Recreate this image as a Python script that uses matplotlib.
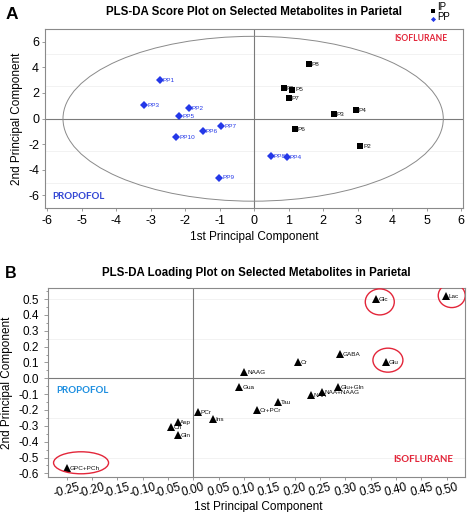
import matplotlib
matplotlib.use('Agg')
import matplotlib.pyplot as plt
from matplotlib.patches import Ellipse
from matplotlib.lines import Line2D
from matplotlib.ticker import MultipleLocator, FormatStrFormatter

plt.rcParams['font.family'] = ['Liberation Sans', 'DejaVu Sans']
plt.rcParams['axes.unicode_minus'] = False

# ---------------- Panel A data (scores) ----------------
ip_labels = ['P8', 'P1', 'P5', 'P7', 'P4', 'P3', 'P6', 'P2']
ip_x = [1.58, 0.86, 1.10, 1.00, 2.94, 2.31, 1.18, 3.07]
ip_y = [4.23, 2.39, 2.26, 1.56, 0.65, 0.34, -0.83, -2.13]

pp_labels = ['PP1', 'PP3', 'PP2', 'PP5', 'PP7', 'PP6', 'PP10', 'PP8', 'PP4', 'PP9']
pp_x = [-2.74, -3.18, -1.90, -2.17, -0.96, -1.49, -2.26, 0.48, 0.94, -1.02]
pp_y = [3.02, 1.02, 0.78, 0.20, -0.57, -0.99, -1.48, -2.94, -3.04, -4.60]

# ---------------- Panel B data (loadings) ----------------
met_labels = ['Lac', 'Glc', 'Glu', 'GABA', 'Cr', 'NAAG', 'Gua', 'Glu+Gln',
              'NAA', 'NAA+NAAG', 'Tau', 'Cr+PCr', 'PCr', 'Ins', 'Ch', 'Asp',
              'Gln', 'GPC+PCh']
met_x = [0.498, 0.360, 0.380, 0.289, 0.207, 0.101, 0.091, 0.286,
         0.232, 0.253, 0.168, 0.125, 0.009, 0.039, -0.044, -0.031,
         -0.030, -0.249]
met_y = [0.519, 0.498, 0.105, 0.153, 0.101, 0.042, -0.053, -0.053,
         -0.105, -0.088, -0.152, -0.200, -0.215, -0.259, -0.305, -0.278,
         -0.358, -0.568]
highlighted = ['Lac', 'Glc', 'Glu', 'GPC+PCh']

# ---------------- styles ----------------
W, H = 468, 512
BLUE = '#2438e8'
RED = '#e3263a'
SPINE = '#8a8a8a'
ring_style = {  # (dx px, dy px, width px, height px) relative to point
    'Lac': (6, 0.5, 27, 24),
    'Glc': (4, -2.5, 29, 26),
    'Glu': (2, 1.5, 30, 24),
    'GPC+PCh': (14, 5.5, 55, 22),
}

fig = plt.figure(figsize=(W / 100, H / 100), dpi=100)


def rect(l, t, r, b):
    return [l / W, 1 - b / H, (r - l) / W, (b - t) / H]


def style_axes(ax):
    for s in ax.spines.values():
        s.set_color(SPINE)
        s.set_linewidth(0.8)
    ax.tick_params(which='both', direction='out', color=SPINE, width=0.6)


# ================= Panel A =================
axA = fig.add_axes(rect(44.7, 28.7, 463.3, 208.3))
style_axes(axA)
axA.set_xlim(-6.07, 6.06)
axA.set_ylim(-7.0, 7.0)
axA.set_xticks(range(-6, 7))
axA.set_yticks(range(-6, 7, 2))
axA.tick_params(axis='x', length=2.5, pad=2, labelsize=9)
axA.tick_params(axis='y', length=2.5, pad=1.5, labelsize=9)
for yv in (-5, -2.5, 2.5, 5):
    axA.axhline(yv, color='#f0f0f0', lw=0.6, zorder=0)
axA.axhline(0, color='#7a7a7a', lw=0.8, zorder=1)
axA.axvline(0, color='#7a7a7a', lw=0.8, zorder=1)
axA.add_patch(Ellipse((-0.03, -0.02), 11.02, 12.85, fill=False,
                      ec='#8a8a8a', lw=0.7, zorder=1))

for lab, x, y in zip(ip_labels, ip_x, ip_y):
    axA.annotate(lab, (x, y), xytext=(2.2, -0.3), textcoords='offset points',
                 fontsize=4.6, color='#111111', va='center', ha='left', zorder=3)
for lab, x, y in zip(pp_labels, pp_x, pp_y):
    axA.annotate(lab, (x, y), xytext=(2.2, -0.3), textcoords='offset points',
                 fontsize=4.6, color=BLUE, va='center', ha='left', zorder=3)
axA.plot(ip_x, ip_y, ls='none', marker='s', ms=4.4, mew=0, color='black', zorder=4)
axA.plot(pp_x, pp_y, ls='none', marker='D', ms=4.4, mew=0, color=BLUE, zorder=4)

axA.text(0.899, 0.948, 'ISOFLURANE', transform=axA.transAxes, ha='center',
         va='center', color=RED, fontsize=6.2, fontweight='bold', family='Lato')
axA.text(0.0796, 0.063, 'PROPOFOL', transform=axA.transAxes, ha='center',
         va='center', color='#3347d4', fontsize=7, fontweight='bold', family='Lato')

axA.set_xlabel('1st Principal Component', fontsize=8.5, va='center')
axA.xaxis.set_label_coords(0.501, -0.158)
axA.set_ylabel('2nd Principal Component', fontsize=8.5, va='center')
axA.yaxis.set_label_coords(-0.067, 0.5)

fig.text(254 / W, 1 - 11.7 / H, 'PLS-DA Score Plot on Selected Metabolites in Parietal',
         ha='center', va='center', fontsize=8.3, fontweight='bold')
fig.text(6 / W, 1 - 14.5 / H, 'A', ha='left', va='center', fontsize=12.5,
         fontweight='bold')

# manual legend
fig.add_artist(Line2D([432.7 / W], [1 - 11.0 / H], marker='s', ms=3.0, mew=0,
                      color='black', ls='none', transform=fig.transFigure))
fig.add_artist(Line2D([432.7 / W], [1 - 18.8 / H], marker='D', ms=2.6, mew=0,
                      color=BLUE, ls='none', transform=fig.transFigure))
fig.text(437 / W, 1 - 7.2 / H, 'IP', ha='left', va='center', fontsize=7)
fig.text(437 / W, 1 - 16.9 / H, 'PP', ha='left', va='center', fontsize=7)

# ================= Panel B =================
axB = fig.add_axes(rect(48.3, 288, 465, 477))
style_axes(axB)
axB.set_xlim(-0.286, 0.536)
axB.set_ylim(-0.623, 0.570)
axB.xaxis.set_major_locator(MultipleLocator(0.05))
axB.yaxis.set_minor_locator(MultipleLocator(0.05))
axB.xaxis.set_major_formatter(FormatStrFormatter('%.2f'))
yt = [round(-0.6 + 0.1 * i, 1) for i in range(12)]
axB.set_yticks(yt)
axB.set_yticklabels(['%.1f' % (0.0 if abs(v) < 1e-9 else v) for v in yt])
axB.tick_params(axis='y', which='major', length=3, pad=4, labelsize=8.5)
axB.tick_params(axis='y', which='minor', length=1.8)
axB.tick_params(axis='x', which='major', length=2, pad=1.0, labelsize=8.5,
                labelrotation=15)
for t in axB.get_xticklabels():
    t.set_ha('center')
for yv in (-0.5, -0.25, 0.25, 0.5):
    axB.axhline(yv, color='#f0f0f0', lw=0.6, zorder=0)
axB.axhline(0, color='#7a7a7a', lw=0.8, zorder=1)
axB.axvline(0, color='#7a7a7a', lw=0.8, zorder=1)

for lab, x, y in zip(met_labels, met_x, met_y):
    axB.annotate(lab, (x, y), xytext=(2.0, -0.3), textcoords='offset points',
                 fontsize=4.6, color='#111111', va='center', ha='left', zorder=3)
axB.plot(met_x, met_y, ls='none', marker='^', ms=5.4, mew=0, color='black', zorder=4)

# red rings around key metabolites
bw_px, bh_px = 465 - 48.3, 477 - 288
sx = (0.536 + 0.286) / bw_px
sy = (0.570 + 0.623) / bh_px
for lab in highlighted:
    i = met_labels.index(lab)
    dx, dy, w, h = ring_style[lab]
    axB.add_patch(Ellipse((met_x[i] + dx * sx, met_y[i] + dy * sy), w * sx, h * sy,
                          fill=False, ec=RED, lw=1.0, zorder=5))

axB.text(0.081, 0.460, 'PROPOFOL', transform=axB.transAxes, ha='center',
         va='center', color='#1e8fe0', fontsize=7, fontweight='bold', family='Lato')
axB.text(0.900, 0.090, 'ISOFLURANE', transform=axB.transAxes, ha='center',
         va='center', color=RED, fontsize=7, fontweight='bold', family='Lato')

axB.set_xlabel('1st Principal Component', fontsize=8.5, va='center')
axB.xaxis.set_label_coords(0.503, -0.157)
axB.set_ylabel('2nd Principal Component', fontsize=8.5, va='center')
axB.yaxis.set_label_coords(-0.0998, 0.5)

fig.text(256 / W, 1 - 273 / H, 'PLS-DA Loading Plot on Selected Metabolites in Parietal',
         ha='center', va='center', fontsize=8.3, fontweight='bold')
fig.text(5 / W, 1 - 273.5 / H, 'B', ha='left', va='center', fontsize=11.5,
         fontweight='bold')

fig.savefig('out.png', dpi=100, facecolor='white')
